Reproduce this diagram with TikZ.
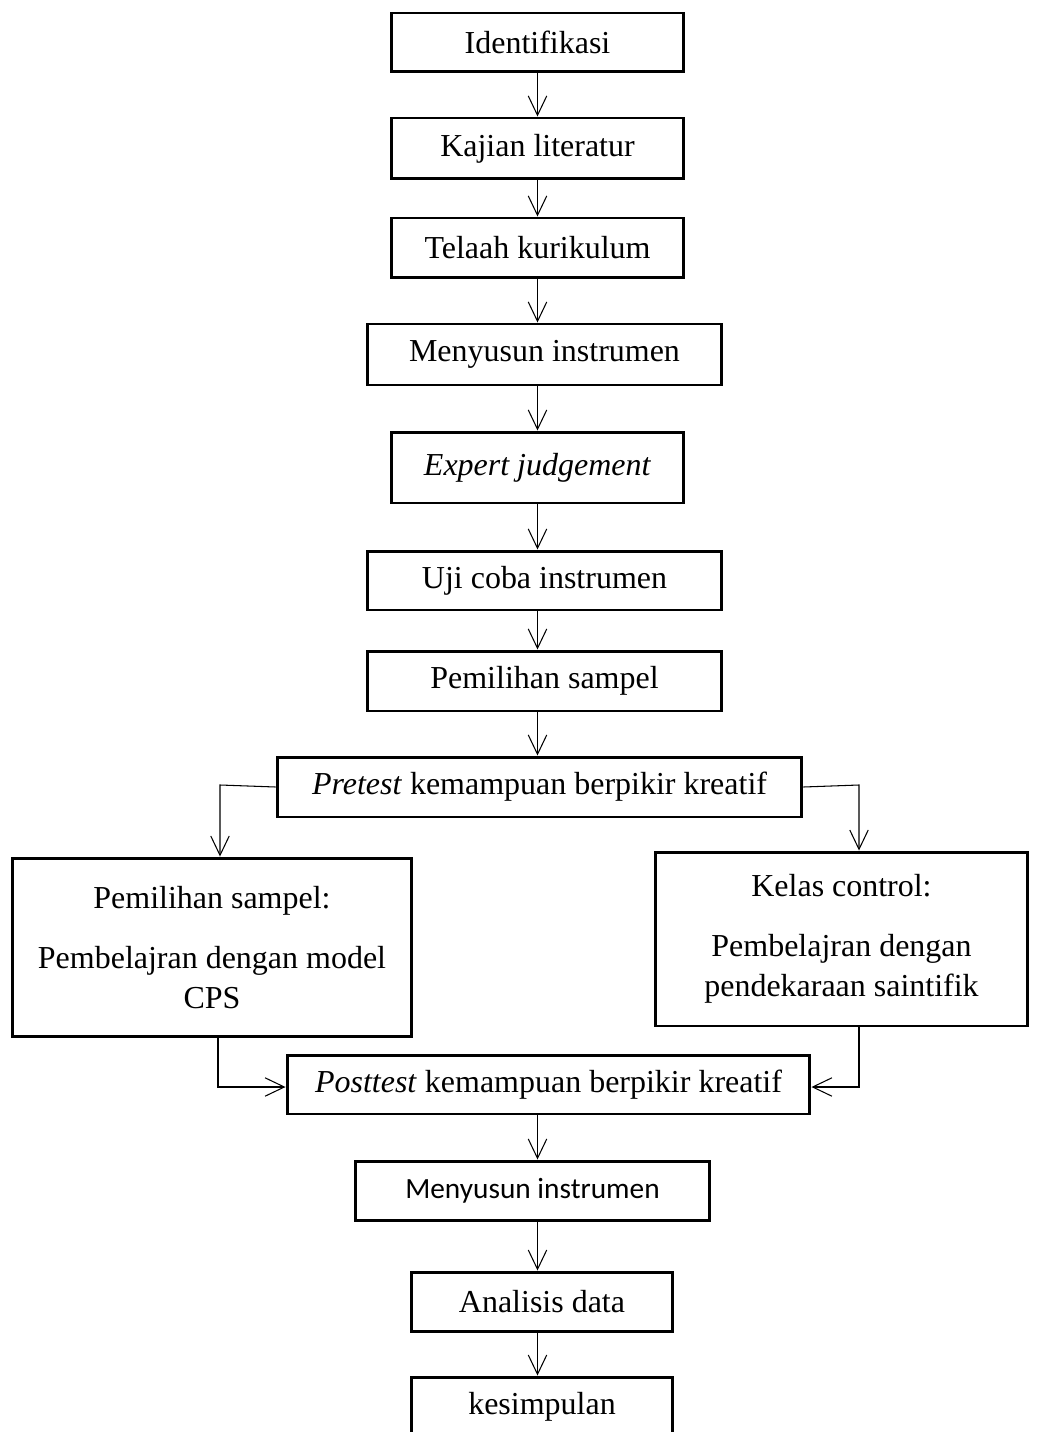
\documentclass[tikz,border=0pt]{standalone}
\usepackage{fontspec}
\setmainfont{Liberation Serif}
\newfontfamily\calibri{Carlito}
\usetikzlibrary{arrows.meta}

\begin{document}
\begin{tikzpicture}[x=0.02cm,y=-0.02cm,
    box/.style={draw=black,line width=1.7pt,inner sep=0pt,align=center,
      font=\fontsize{18.2}{22.8}\selectfont},
    arr/.style={line width=0.6pt,-{Straight Barb[length=11pt,width=10.5pt]}}]
  \useasboundingbox (0,0) rectangle (1040,1432);
  % main column
  \node[box,minimum width=5.86cm,minimum height=1.18cm] (idf) at (537.5,42.5) {Identifikasi};
  \node[box,minimum width=5.86cm,minimum height=1.22cm] (kaj) at (537.5,148.5) {Kajian literatur};
  \node[box,minimum width=5.86cm,minimum height=1.20cm] (tel) at (537.5,248) {Telaah kurikulum};
  \node[box,minimum width=7.10cm,minimum height=1.22cm] (men) at (544.5,354.5) {Menyusun instrumen};
  \node[box,minimum width=5.86cm,minimum height=1.42cm] (exp) at (537.5,467.5) {\textit{Expert judgement}};
  \node[box,minimum width=7.10cm,minimum height=1.18cm] (uji) at (544.5,580.5) {Uji coba instrumen};
  \node[box,minimum width=7.10cm,minimum height=1.20cm] (pem) at (544.5,681) {Pemilihan sampel};
  \node[box,minimum width=10.50cm,minimum height=1.20cm] (pre) at (539.5,787) {\textit{Pretest} kemampuan berpikir kreatif};
  % two classes
  \node[box,minimum width=8.00cm,minimum height=3.58cm] (cps) at (212,947.5)
    {Pemilihan sampel:\\[11pt]Pembelajran dengan model\\CPS};
  \node[box,minimum width=7.46cm,minimum height=3.48cm] (kel) at (841.5,939)
    {Kelas control:\\[11pt]Pembelajran dengan\\pendekaraan saintifik};
  \node[box,minimum width=10.46cm,minimum height=1.18cm] (post) at (548.5,1084.5) {\textit{Posttest} kemampuan berpikir kreatif};
  \node[box,minimum width=7.10cm,minimum height=1.18cm,font=\calibri\fontsize{16.7}{20}\selectfont] (men2) at (532.5,1190.5) {Menyusun instrumen};
  \node[box,minimum width=5.24cm,minimum height=1.18cm] (ana) at (542,1301.5) {Analisis data};
  \node[box,minimum width=5.24cm,minimum height=1.20cm] (kes) at (542,1407) {kesimpulan};

  % arrows
  \draw[arr] (idf) -- (kaj);
  \draw[arr] (kaj) -- (tel);
  \draw[arr] (tel.south) -- (tel.south |- men.north);
  \draw[arr] (exp.north |- men.south) -- (exp.north);
  \draw[arr] (exp.south) -- (exp.south |- uji.north);
  \draw[arr] (uji.south -| exp.south) -- (pem.north -| exp.south);
  \draw[arr] (pem.south -| exp.south) -- (pre.north -| exp.south);
  \coordinate (lturn) at (220,785);
  \coordinate (rturn) at (859,785);
  \draw[arr] (pre.west) -- (lturn) -- (lturn |- cps.north);
  \draw[arr] (pre.east) -- (rturn) -- (rturn |- kel.north);
  \coordinate (lbot) at (218,1087);
  \coordinate (rbot) at (859,1087);
  \draw[arr] (lbot |- cps.south) -- (lbot) -- (lbot -| post.west);
  \draw[arr] (rbot |- kel.south) -- (rbot) -- (rbot -| post.east);
  \draw[arr] (post.south -| exp.south) -- (men2.north -| exp.south);
  \draw[arr] (men2.south -| exp.south) -- (ana.north -| exp.south);
  \draw[arr] (ana.south -| exp.south) -- (kes.north -| exp.south);
\end{tikzpicture}
\end{document}
